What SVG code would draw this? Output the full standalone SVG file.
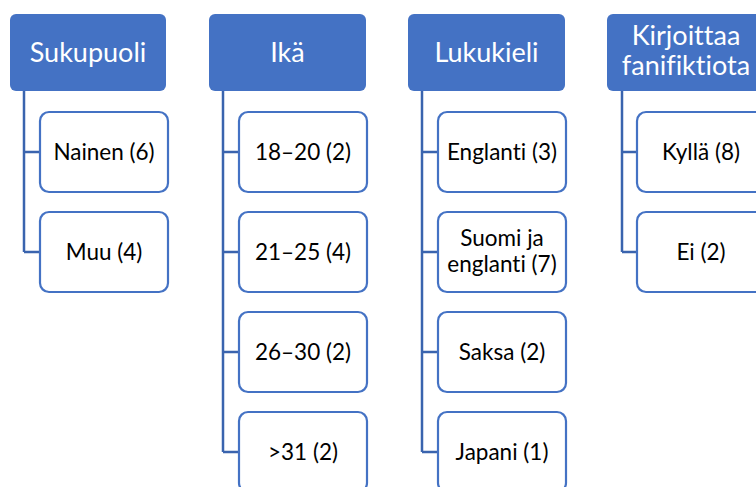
<svg xmlns="http://www.w3.org/2000/svg" width="756" height="487" viewBox="0 0 756 487">
<style>
.hdr{fill:#4472C4;}
.ht{fill:#ffffff;font-family:Lato,"Liberation Sans",sans-serif;font-size:27px;text-anchor:middle;font-variant-ligatures:none;}
.box{fill:#ffffff;stroke:#4472C4;stroke-width:2.2;}
.ct{fill:#000000;font-family:Lato,"Liberation Sans",sans-serif;font-size:22.5px;text-anchor:middle;font-variant-ligatures:none;}
.con{fill:none;stroke:#3A64AE;stroke-width:2.5;}
</style>
<rect width="756" height="487" fill="#ffffff"/>
<g id="connectors">
<path class="con" d="M24,91 V252 M24,152 H40 M24,252 H40"/>
<path class="con" d="M223,91 V452 M223,152 H239 M223,252 H239 M223,352 H239 M223,452 H239"/>
<path class="con" d="M422,91 V452 M422,152 H438 M422,252 H438 M422,352 H438 M422,452 H438"/>
<path class="con" d="M622,91 V252 M622,152 H637 M622,252 H637"/>
</g>
<g id="h-sukupuoli"><rect class="hdr" x="10" y="14" width="156" height="77" rx="6"/><text class="ht" x="88" y="62">Sukupuoli</text></g>
<g id="h-ika"><rect class="hdr" x="209" y="14" width="157" height="77" rx="6"/><text class="ht" x="287.5" y="62">Ikä</text></g>
<g id="h-lukukieli"><rect class="hdr" x="408" y="14" width="157" height="77" rx="6"/><text class="ht" x="486.5" y="62">Lukukieli</text></g>
<g id="h-kirjoittaa"><rect class="hdr" x="607" y="14" width="157" height="77" rx="6"/><text class="ht" x="686" y="45">Kirjoittaa</text><text class="ht" x="686" y="75">fanifiktiota</text></g>
<g id="c-nainen"><rect class="box" x="40" y="112" width="128" height="80" rx="9"/><text class="ct" x="104" y="160">Nainen (6)</text></g>
<g id="c-muu"><rect class="box" x="40" y="212" width="128" height="80" rx="9"/><text class="ct" x="104" y="260">Muu (4)</text></g>
<g id="c-18"><rect class="box" x="239" y="112" width="128" height="80" rx="9"/><text class="ct" x="303" y="160">18–20 (2)</text></g>
<g id="c-21"><rect class="box" x="239" y="212" width="128" height="80" rx="9"/><text class="ct" x="303" y="260">21–25 (4)</text></g>
<g id="c-26"><rect class="box" x="239" y="312" width="128" height="80" rx="9"/><text class="ct" x="303" y="360">26–30 (2)</text></g>
<g id="c-31"><rect class="box" x="239" y="412" width="128" height="80" rx="9"/><text class="ct" x="303" y="460">&gt;31 (2)</text></g>
<g id="c-englanti"><rect class="box" x="438" y="112" width="128" height="80" rx="9"/><text class="ct" x="502" y="160">Englanti (3)</text></g>
<g id="c-suomi"><rect class="box" x="438" y="212" width="128" height="80" rx="9"/><text class="ct" x="502" y="245.5">Suomi ja</text><text class="ct" x="502" y="272">englanti (7)</text></g>
<g id="c-saksa"><rect class="box" x="438" y="312" width="128" height="80" rx="9"/><text class="ct" x="502" y="360">Saksa (2)</text></g>
<g id="c-japani"><rect class="box" x="438" y="412" width="128" height="80" rx="9"/><text class="ct" x="502" y="460">Japani (1)</text></g>
<g id="c-kylla"><rect class="box" x="637" y="112" width="128" height="80" rx="9"/><text class="ct" x="701" y="160">Kyllä (8)</text></g>
<g id="c-ei"><rect class="box" x="637" y="212" width="128" height="80" rx="9"/><text class="ct" x="701" y="260">Ei (2)</text></g>
</svg>
